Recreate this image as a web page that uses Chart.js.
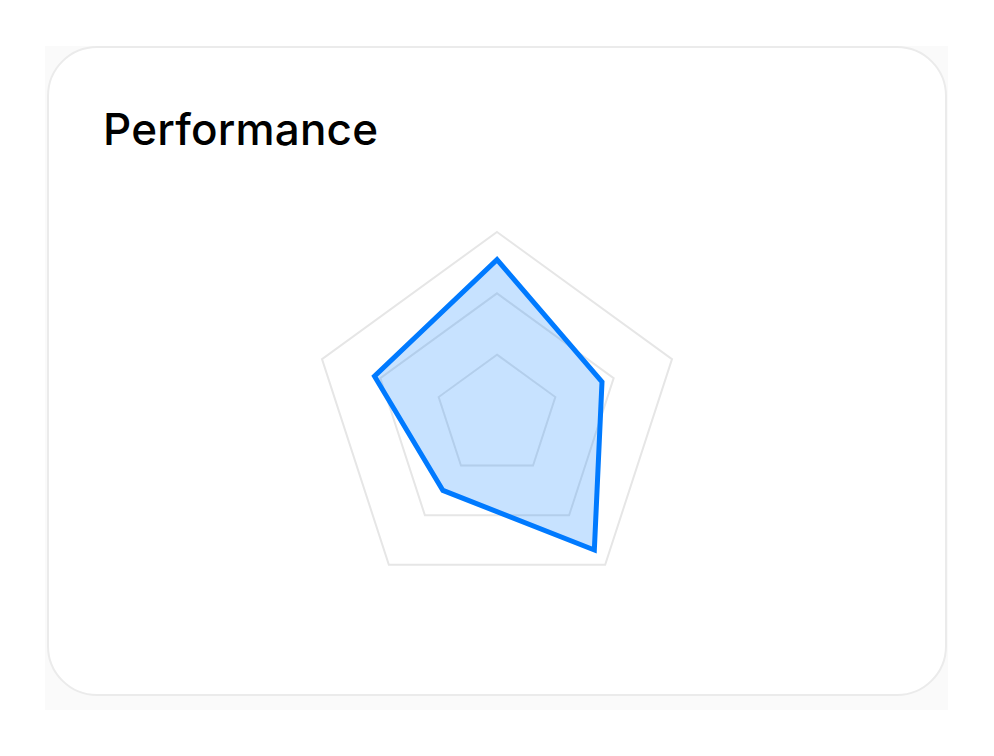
<!DOCTYPE html>
<html>
<head>
<meta charset="utf-8">
<script src="https://cdn.jsdelivr.net/npm/chart.js@4"></script>
<style>
  html, body { margin: 0; padding: 0; background: #fff; }
  body { width: 994px; height: 756px; position: relative; overflow: hidden; font-family: Inter, "Noto Sans", sans-serif; }
  #back { position: absolute; left: 45px; top: 46px; width: 903px; height: 664px; background: #fafafa; }
  #card { position: absolute; left: 47px; top: 46px; width: 896px; height: 646px; background: #fff;
          border: 2px solid #ebebeb; border-radius: 50px; }
  #title { position: absolute; left: 103px; top: 101px; margin: 0; font-size: 44px; font-weight: 500;
           color: #000; letter-spacing: 0.2px; line-height: 56px; }
  #wrap { position: absolute; left: 297px; top: 216px; width: 400px; height: 400px; }
</style>
</head>
<body>
<div id="back"></div>
<div id="card"></div>
<h1 id="title">Performance</h1>
<div id="wrap"><canvas id="chart"></canvas></div>
<script>
var labels = ["Speed", "Memory", "Stability", "Battery", "Network"];
var scores = [85, 60, 90, 50, 70];
var scaleMin = 0;
var scaleMax = 100;

var ctx = document.getElementById("chart").getContext("2d");

var performanceData = {
    label: "Performance",
    data: scores,
    fill: true,
    backgroundColor: "rgba(0,122,255,0.22)",
    borderColor: "#007AFF",
    borderWidth: 5,
    pointRadius: 0,
    pointHoverRadius: 0,
    borderJoinStyle: "miter"
};

var myChart = new Chart(ctx, {
    type: "radar",
    data: {
        labels: labels,
        datasets: [performanceData]
    },
    options: {
        responsive: true,
        maintainAspectRatio: false,
        animation: false,
        layout: { padding: 16 },
        plugins: {
            legend: { display: false },
            tooltip: { enabled: false }
        },
        elements: { line: { tension: 0 } },
        scales: {
            r: {
                min: scaleMin,
                max: scaleMax,
                ticks: { display: false, count: 4 },
                angleLines: { display: false },
                pointLabels: { display: false },
                grid: { color: "#e6e6e6", lineWidth: 2 }
            }
        }
    }
});
</script>
</body>
</html>
